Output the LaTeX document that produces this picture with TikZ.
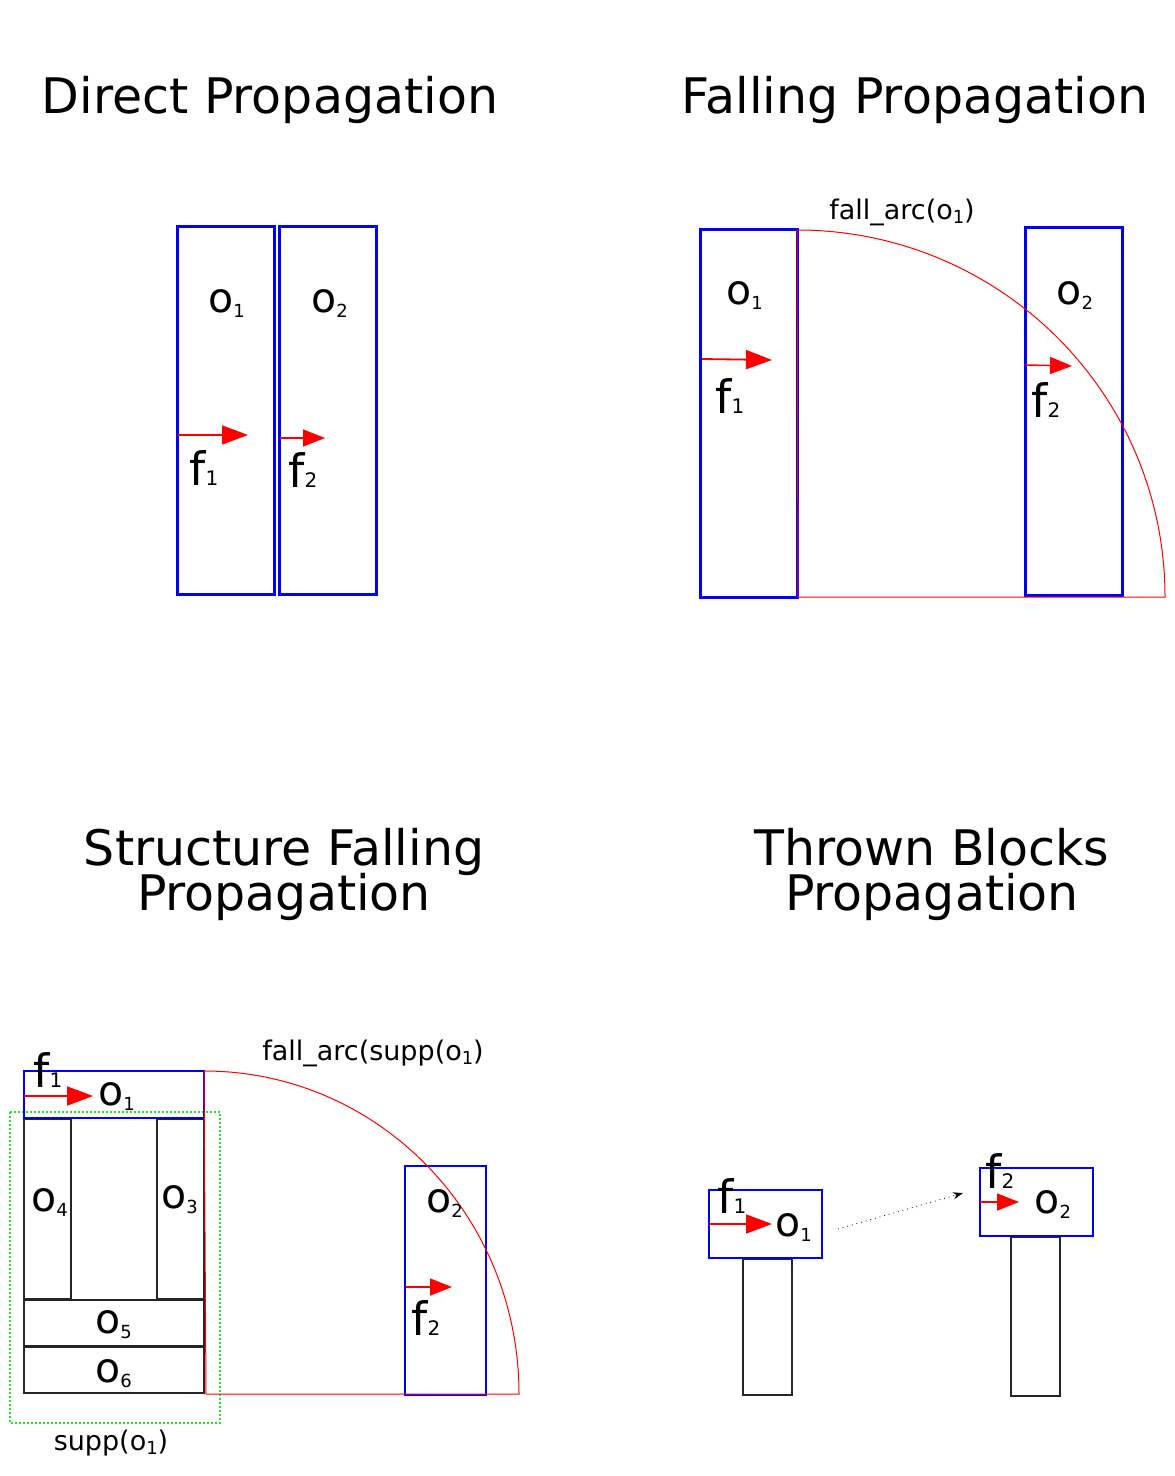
\documentclass[tikz,border=0pt]{standalone}
\usepackage{fontspec}
\setmainfont{DejaVu Sans}
\usepackage{tikz}
\usetikzlibrary{arrows.meta}
\usetikzlibrary{positioning}

\definecolor{suppgreen}{RGB}{30,235,30}
\newcommand{\tightlines}{\lineskiplimit=-30pt\relax\lineskip=0pt\relax}

\tikzset{
  ttl/.style={font=\fontsize{24.5}{22.5}\selectfont\tightlines, align=center, anchor=base, inner sep=0},
  olab/.style={font=\fontsize{20.5}{20.5}\selectfont, anchor=base west, inner sep=0},
  flab/.style={font=\fontsize{23}{23}\selectfont, anchor=base west, inner sep=0},
  note/.style={font=\fontsize{13.5}{13.5}\selectfont, anchor=base, inner sep=0},
  objbox/.style={draw=blue, line width=1.5pt},
  thinobj/.style={draw=blue, line width=0.6pt},
  plainbox/.style={draw=black!85, line width=0.6pt},
  suppbox/.style={draw=suppgreen, line width=0.6pt, dash pattern=on 1pt off 1pt},
  arcline/.style={draw=red, line width=0.5pt},
  force/.style={draw=red, line width=0.9pt, -{Triangle[length=13pt,width=9.5pt]}},
  smallforce/.style={draw=red, line width=0.75pt, -{Triangle[length=11pt,width=8.5pt]}},
  throw/.style={draw=black, line width=0.4pt, dotted, -{Stealth[length=5pt,width=3.5pt]}}
}
\newcommand{\osub}[2]{#1\raisebox{-2.5pt}{\fontsize{9}{9}\selectfont #2}}
\newcommand{\fsub}[2]{#1{\fontsize{10}{10}\selectfont #2}}
\newcommand{\nsub}[1]{\raisebox{-2pt}{\fontsize{9}{9}\selectfont #1}}

\begin{document}
\begin{tikzpicture}[x=0.5pt, y=-0.5pt]
\useasboundingbox (0,0) rectangle (1174,1476);

% titles
\node[ttl] (tdirect) at (270,114) {Direct Propagation};
\node[ttl] (tfalling) at (915,114) {Falling Propagation};
\node[ttl] (tstruct) at (284,910) {Structure Falling\\Propagation};
\node[ttl] (tthrown) at (932,910) {Thrown Blocks\\Propagation};

% direct propagation
\draw[objbox] (177,227) rectangle (274,594);
\draw[objbox] (279,227) rectangle (376,594);
\node[olab] (do1) at (208,313) {\osub{o}{1}};
\node[olab] (do2) at (311,313) {\osub{o}{2}};
\coordinate (df1s) at (178,435);
\coordinate (df1e) at (248,435);
\coordinate (df2s) at (280,438);
\coordinate (df2e) at (325,438);
\draw[force] (df1s) -- (df1e);
\draw[smallforce] (df2s) -- (df2e);
\node[flab] (df1) at (189,485) {\fsub{f}{1}};
\node[flab] (df2) at (288,487) {\fsub{f}{2}};

% falling propagation
\draw[objbox] (700,230) rectangle (797,597);
\draw[objbox] (1025,228) rectangle (1122,595);
\draw[arcline] (798,597) -- (797,230)
  .. controls (1000,230) and (1165,394) .. (1165,597) -- cycle;
\node[note] (farc) at (902,220) {fall\_arc(o\nsub{1})};
\node[olab] (fo1) at (726,305) {\osub{o}{1}};
\node[olab] (fo2) at (1056,305) {\osub{o}{2}};
\coordinate (ff1s) at (702,359);
\coordinate (ff1e) at (772,360);
\coordinate (ff2s) at (1026,365);
\coordinate (ff2e) at (1072,366);
\draw[force] (ff1s) -- (ff1e);
\draw[smallforce] (ff2s) -- (ff2e);
\node[flab] (ff1) at (715,413) {\fsub{f}{1}};
\node[flab] (ff2) at (1031,417) {\fsub{f}{2}};

% structure falling propagation
\draw[suppbox] (10,1112) rectangle (220,1423);
\draw[plainbox] (24,1119) rectangle (71,1299);
\draw[plainbox] (157,1119) rectangle (204,1299);
\draw[plainbox] (24,1300) rectangle (204,1346);
\draw[plainbox] (24,1347) rectangle (204,1393);
\draw[thinobj] (24,1071) rectangle (204,1118);
\draw[objbox, line width=1.1pt] (405,1166) rectangle (486,1395);
\draw[arcline] (206,1394) -- (204,1071)
  .. controls (379,1071) and (519,1216) .. (519,1394) -- cycle;
\node[note] (sarc) at (373,1060) {fall\_arc(supp(o\nsub{1})};
\node[note] (ssupp) at (111,1450) {supp(o\nsub{1})};
\coordinate (sf1s) at (24,1096);
\coordinate (sf1e) at (93,1096);
\coordinate (sf2s) at (406,1287);
\coordinate (sf2e) at (452,1287);
\draw[force] (sf1s) -- (sf1e);
\draw[smallforce] (sf2s) -- (sf2e);
\node[flab] (sf1) at (33,1087) {\fsub{f}{1}};
\node[olab] (so1) at (98,1105) {\osub{o}{1}};
\node[olab] (so4) at (31,1211) {\osub{o}{4}};
\node[olab] (so3) at (161,1208) {\osub{o}{3}};
\node[olab] (so5) at (95,1333) {\osub{o}{5}};
\node[olab] (so6) at (95,1382) {\osub{o}{6}};
\node[olab] (so2) at (426,1212) {\osub{o}{2}};
\node[flab] (sf2) at (411,1335) {\fsub{f}{2}};

% thrown blocks propagation
\draw[plainbox] (743,1259) rectangle (792,1395);
\draw[plainbox] (1011,1237) rectangle (1060,1396);
\draw[thinobj] (709,1190) rectangle (822,1258);
\draw[thinobj] (980,1168) rectangle (1093,1236);
\coordinate (tf1s) at (710,1224);
\coordinate (tf1e) at (772,1224);
\coordinate (tf2s) at (980,1202);
\coordinate (tf2e) at (1019,1202);
\draw[force] (tf1s) -- (tf1e);
\draw[smallforce] (tf2s) -- (tf2e);
\node[flab] (tf1) at (717,1213) {\fsub{f}{1}};
\node[olab] (to1) at (775,1236) {\osub{o}{1}};
\node[flab] (tf2) at (985,1188) {\fsub{f}{2}};
\node[olab] (to2) at (1034,1213) {\osub{o}{2}};
\coordinate (thrs) at (838,1229);
\coordinate (thre) at (963,1193);
\draw[throw] (thrs) -- (thre);
\end{tikzpicture}
\end{document}
